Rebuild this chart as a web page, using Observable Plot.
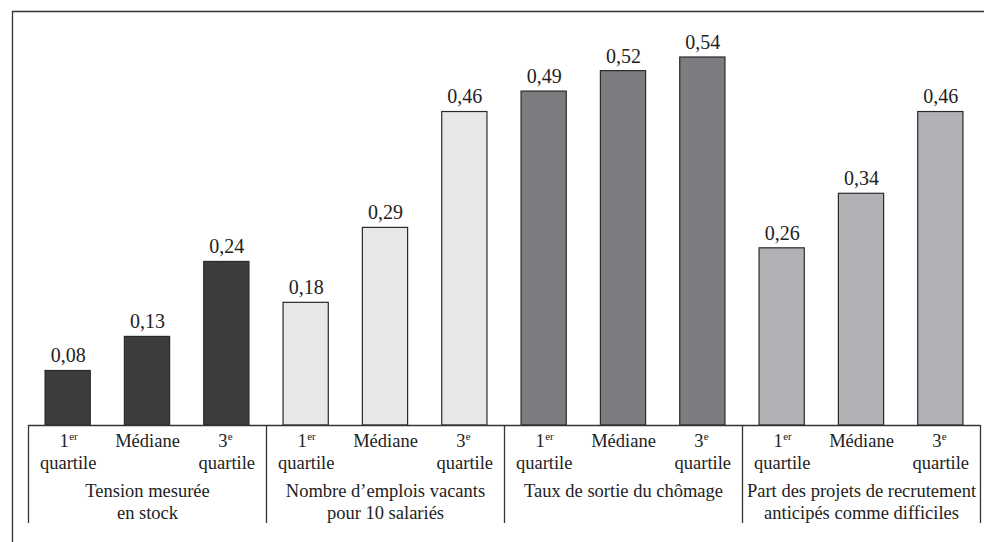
<!DOCTYPE html>
<html>
<head>
<meta charset="utf-8">
<script src="https://cdn.jsdelivr.net/npm/d3@7"></script>
<script src="https://cdn.jsdelivr.net/npm/@observablehq/plot@0.6"></script>
<style>
  html, body { margin: 0; padding: 0; background: #fff; }
  #chart svg { display: block; }
  #chart svg text { font-family: "Liberation Serif", "Times New Roman", serif; }
</style>
</head>
<body>
<div id="chart"></div>
<script>
const groups = [
  "Tension mesurée\nen stock",
  "Nombre d’emplois vacants\npour 10 salariés",
  "Taux de sortie du chômage",
  "Part des projets de recrutement\nanticipés comme difficiles"
];
const levelMain = ["1", "Médiane", "3"];
const levelSup = ["er", "", "e"];
const levelSecond = ["quartile", "", "quartile"];
const values = [
  [0.08, 0.13, 0.24],
  [0.18, 0.29, 0.46],
  [0.49, 0.52, 0.54],
  [0.26, 0.34, 0.46]
];
const groupColors = ["#3d3d3d", "#e6e7e9", "#7c7d81", "#b1b2b5"];

const rows = [];
groups.forEach((g, gi) => {
  levelMain.forEach((l, li) => {
    rows.push({i: gi * 3 + li, group: gi, level: li, value: values[gi][li]});
  });
});
const groupRows = groups.map((g, gi) => ({center: gi * 3 + 1, label: g}));
const seps = d3.range(groups.length + 1).map(k => k * 3 - 0.5);
const fmt = v => d3.format(".2f")(v).replace(".", ",");
const half = 0.285;
const font = "Liberation Serif";
const medianRows = rows.filter(d => d.level === 1);
const quartRows = rows.filter(d => d.level !== 1);

const plot = Plot.plot({
  width: 984,
  height: 542,
  marginLeft: 28,
  marginRight: 4,
  marginTop: 57,
  marginBottom: 117,
  style: {fontFamily: font, background: "#fff", color: "#222"},
  x: {domain: [-0.5, 11.5], axis: null},
  y: {domain: [0, 0.54], axis: null},
  marks: [
    Plot.rectY(rows, {
      x1: d => d.i - half, x2: d => d.i + half, y1: 0, y2: "value",
      fill: d => groupColors[d.group], stroke: "#2a2a2a", strokeWidth: 1.2
    }),
    Plot.text(rows, {
      x: "i", y: "value", text: d => fmt(d.value), dy: -15,
      fontSize: 20, fontFamily: font, fill: "#222"
    }),
    Plot.ruleY([0], {stroke: "#333", strokeWidth: 1.3}),
    Plot.ruleX(seps, {x: d => d, y1: 0, y2: -0.1438, stroke: "#333", strokeWidth: 1.3}),
    Plot.text(medianRows, {
      x: "i", y: 0, text: d => levelMain[d.level],
      dy: 16, fontSize: 18.5, fontFamily: font, fill: "#222"
    }),
    Plot.text(quartRows, {
      x: "i", y: 0, text: d => levelMain[d.level],
      dx: -4, dy: 16, fontSize: 18.5, fontFamily: font, fill: "#222"
    }),
    Plot.text(quartRows, {
      x: "i", y: 0, text: d => levelSup[d.level],
      dx: 1, dy: 11, fontSize: 11, fontFamily: font, textAnchor: "start", fill: "#222"
    }),
    Plot.text(quartRows, {
      x: "i", y: 0, text: d => levelSecond[d.level],
      dy: 38, fontSize: 18.5, fontFamily: font, fill: "#222"
    }),
    Plot.text(groupRows, {
      x: "center", y: 0, text: "label", dy: 56, lineAnchor: "top",
      lineHeight: 1.2, fontSize: 18.5, fontFamily: font, fill: "#222"
    })
  ]
});

const svg = d3.select(plot);
svg.append("line").attr("x1", 12).attr("x2", 984).attr("y1", 11.5).attr("y2", 11.5)
  .attr("stroke", "#333").attr("stroke-width", 1.3);
svg.append("line").attr("x1", 12.5).attr("x2", 12.5).attr("y1", 11).attr("y2", 542)
  .attr("stroke", "#333").attr("stroke-width", 1.3);

document.getElementById("chart").appendChild(plot);
</script>
</body>
</html>
